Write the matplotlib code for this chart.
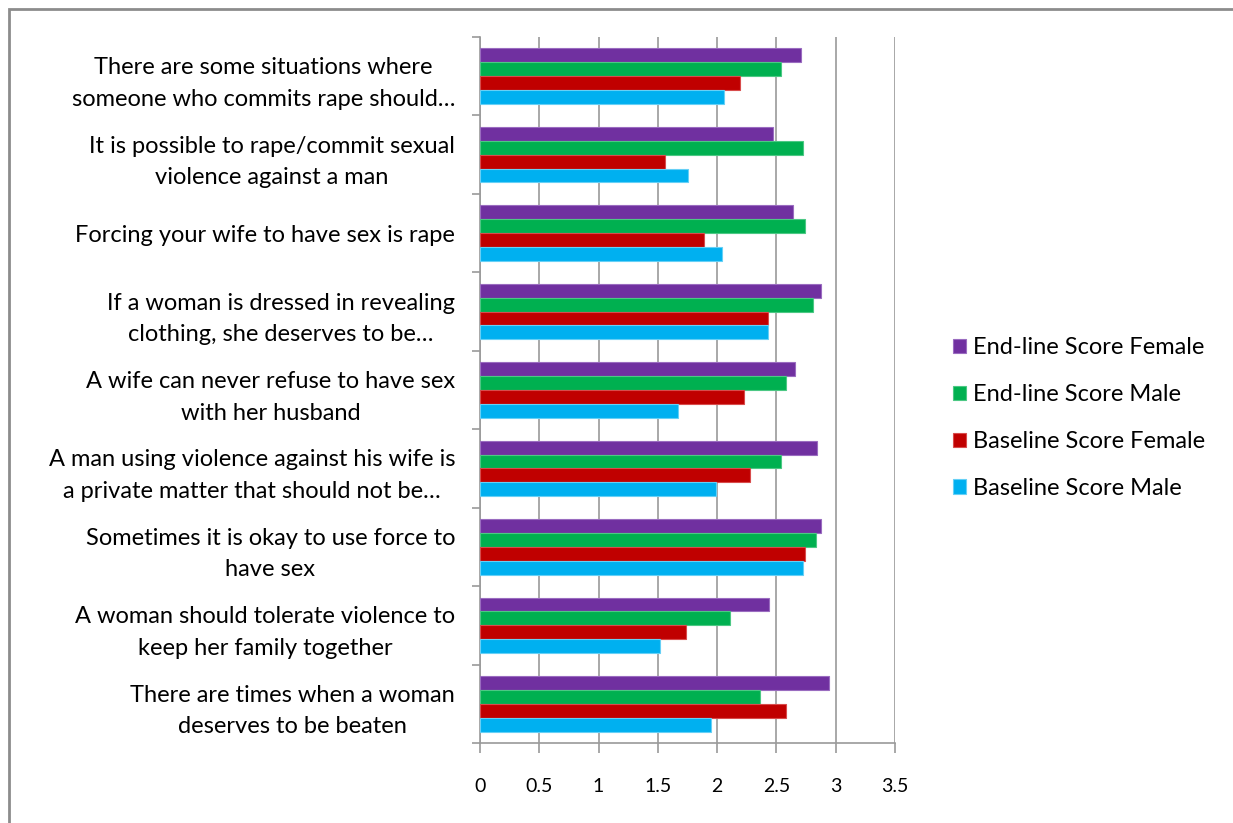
import numpy as np
import matplotlib
matplotlib.use("Agg")
import matplotlib.pyplot as plt
from matplotlib.patches import Rectangle

plt.rcParams['font.family'] = ['Lato', 'DejaVu Sans']

# statements, listed top to bottom
statements = [
    "There are some situations where\nsomeone who commits rape should…",
    "It is possible to rape/commit sexual\nviolence against a man",
    "Forcing your wife to have sex is rape",
    "If a woman is dressed in revealing\nclothing, she deserves to be…",
    "A wife can never refuse to have sex\nwith her husband",
    "A man using violence against his wife is\na private matter that should not be…",
    "Sometimes it is okay to use force to\nhave sex",
    "A woman should tolerate violence to\nkeep her family together",
    "There are times when a woman\ndeserves to be beaten",
]

endline_female = [2.71, 2.47, 2.64, 2.88, 2.66, 2.84, 2.88, 2.44, 2.94]
endline_male = [2.54, 2.72, 2.74, 2.81, 2.58, 2.54, 2.83, 2.11, 2.36]
baseline_female = [2.19, 1.56, 1.89, 2.43, 2.23, 2.28, 2.74, 1.74, 2.58]
baseline_male = [2.06, 1.75, 2.04, 2.43, 1.67, 1.99, 2.72, 1.52, 1.95]

series = [
    ("End-line Score Female", endline_female, "#7030A0", "#9a6cc0"),
    ("End-line Score Male", endline_male, "#00B050", "#4cc884"),
    ("Baseline Score Female", baseline_female, "#C00000", "#d84c4c"),
    ("Baseline Score Male", baseline_male, "#00B0F0", "#66d0f6"),
]

xticks = [0, 0.5, 1, 1.5, 2, 2.5, 3, 3.5]

fig = plt.figure(figsize=(12.33, 8.23), dpi=100)
ax = fig.add_axes([480 / 1233, 1 - 743 / 823, 415 / 1233, 706 / 823])

y = np.arange(len(statements))
h = 0.177
for i, (name, vals, col, edge) in enumerate(series):
    ax.barh(y + (i - 1.5) * h, vals, height=h, color=col, edgecolor=edge,
            linewidth=0.8, label=name, zorder=3)

ax.set_ylim(len(statements) - 0.5, -0.5)
ax.set_xlim(0, 3.5)

# gridlines and axes in the usual spreadsheet grey
grey = "#9a9a9a"
ax.set_xticks(xticks)
ax.set_xticklabels([f"{t:g}" for t in xticks], fontsize=14)
ax.xaxis.grid(True, color=grey, linewidth=1.2, zorder=0)
ax.tick_params(axis='x', direction='out', length=7, width=1.2, color=grey, pad=18)

ax.set_yticks(y)
ax.set_yticklabels(statements, fontsize=17, multialignment='center',
                   linespacing=1.62)
ax.set_yticks(np.arange(-0.5, len(statements), 1), minor=True)
ax.tick_params(axis='y', which='major', length=0, pad=18)
ax.tick_params(axis='y', which='minor', direction='out', length=6, width=1.2,
               color=grey)

for side in ("top", "right"):
    ax.spines[side].set_visible(False)
for side in ("left", "bottom"):
    ax.spines[side].set_color(grey)
    ax.spines[side].set_linewidth(1.2)

ax.legend(loc='center left', bbox_to_anchor=(953 / 1233, 1 - 418 / 823),
          bbox_transform=fig.transFigure, frameon=False, fontsize=17,
          borderpad=0, borderaxespad=0,
          handlelength=0.55, handleheight=0.55, handletextpad=0.3,
          labelspacing=1.1)

# outer chart frame
fig.patches.append(Rectangle((9 / 1233, -0.1), 1.2, 1.1 - 9 / 823,
                             transform=fig.transFigure, fill=False,
                             edgecolor="#8c8c8c", linewidth=2))

fig.savefig("out.png", dpi=100)
